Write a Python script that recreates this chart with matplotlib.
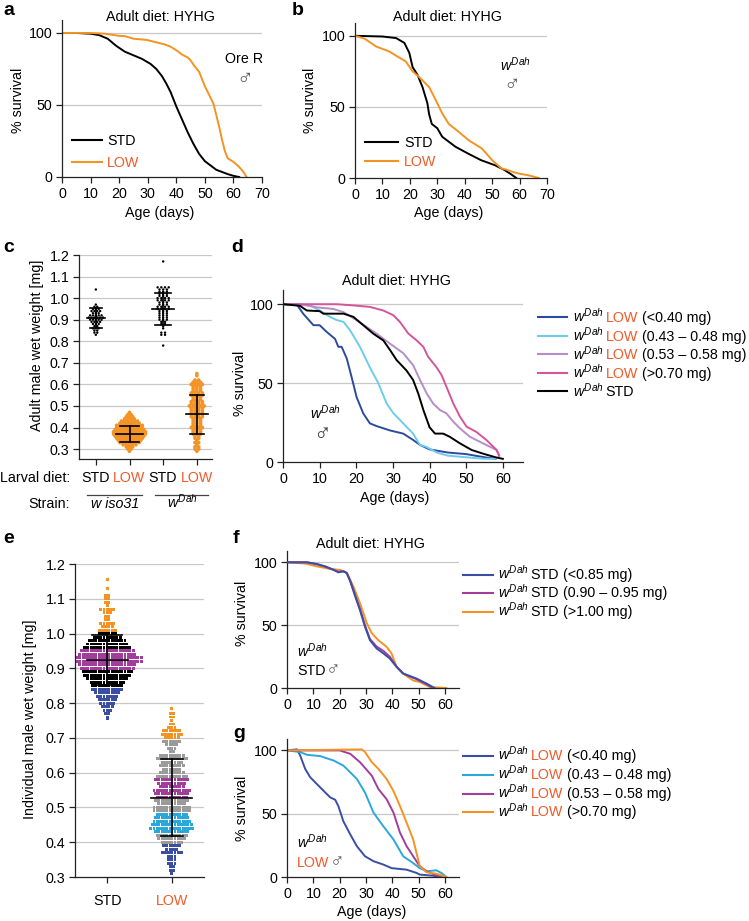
import matplotlib.pyplot as plt
import numpy as np
from matplotlib.lines import Line2D

plt.rcParams['font.family'] = ['Liberation Sans', 'DejaVu Sans']
plt.rcParams['mathtext.fontset'] = 'custom'
plt.rcParams['mathtext.it'] = 'Liberation Sans:italic'
plt.rcParams['mathtext.rm'] = 'Liberation Sans'
plt.rcParams['font.size'] = 10.3

# ---- data: survival curves (age in days, % survival)
a_std_day = [0, 5, 10, 13, 16, 19, 22, 25, 28, 31, 33, 35, 36.6, 38, 40, 42, 44, 46, 48, 50, 52, 54, 56, 58, 60, 62]
a_std_pct = [100, 100, 99.5, 98.5, 96, 91, 87, 84.5, 82, 78.5, 75, 70, 64.5, 59, 49, 40, 31, 23, 16, 11, 8, 5, 3.5, 2, 0.8, 0]
a_low_day = [0, 10, 15, 20, 22, 25, 28, 30, 33, 36, 38, 40, 42, 44, 45, 46, 48, 50, 52, 53, 54, 55, 56, 57, 58, 60, 62, 63.5, 64.6]
a_low_pct = [100, 100, 99.5, 98, 97.8, 96, 95.5, 95, 93.5, 92, 90.5, 88, 85, 83, 81, 78, 73, 63, 55, 51, 43, 35, 26, 18, 13, 10.5, 7, 3.5, 0]

b_std_day = [0, 10, 15, 18, 19.8, 21, 22.8, 24.6, 26.4, 27, 28, 30, 31.8, 36.6, 41.4, 46, 51, 54.7, 57, 58.8]
b_std_pct = [100, 99.5, 98.4, 95, 88, 78, 72.5, 64, 52.5, 45, 38, 35, 29, 22, 17, 12.5, 9, 5.4, 2.5, 0]
b_low_day = [0, 3.5, 7.7, 12.5, 15.5, 18.5, 21, 23.4, 27, 29.4, 31.8, 34.2, 37.8, 41.4, 46.3, 50, 53.5, 55, 58, 60, 63, 65, 67]
b_low_pct = [100, 98, 92.5, 89, 85.4, 82, 75, 71, 64, 55, 45.4, 38, 32.5, 26.6, 20.7, 12.5, 6.6, 6, 4, 3, 2, 1, 0]

d_b1_day = [0, 3.7, 5.5, 8.3, 10, 11.9, 14.2, 15.1, 16, 17.4, 18.7, 20.1, 21.9, 23.7, 25.5, 29.2, 32.8, 35.5, 37.4, 40, 45, 50, 55, 58]
d_b1_pct = [100, 100, 94, 86.7, 86.7, 82.5, 78, 73, 73, 65.6, 54, 41, 30.8, 24.5, 22.8, 20, 18, 14, 10.8, 8, 6, 5, 3, 2]
d_b2_day = [0, 7.4, 10, 12.8, 14.6, 16.5, 18.3, 21, 23.7, 26, 28.3, 30.1, 32.8, 35.5, 37.4, 39, 42, 45, 50, 55, 58]
d_b2_pct = [100, 99.4, 96, 92, 90, 88.8, 83.5, 73, 60, 50, 37, 31, 24.5, 18, 10.8, 9.7, 6, 4, 3, 2, 2]
d_b3_day = [0, 4.6, 9.2, 13.7, 16.5, 20, 25.5, 29.2, 32.8, 35.5, 37.4, 39.2, 41, 42.8, 44.6, 46.5, 48.3, 51, 54.6, 58.3, 59]
d_b3_pct = [100, 100, 98, 97, 95, 90, 81.4, 75, 69, 61.4, 52, 43.5, 37, 33, 30.8, 25.5, 21.3, 16, 11.8, 7.6, 4]
d_b4_day = [0, 14.6, 18.3, 23.7, 27.4, 30.1, 31.9, 34.2, 36.5, 38.3, 39.6, 41.9, 43.3, 44.6, 46.5, 48.3, 50.1, 52.8, 55.5, 58.3, 59]
d_b4_pct = [100, 100, 99.4, 98.3, 96, 93, 88.8, 81.4, 77, 73, 66.7, 60, 55, 47.7, 37, 28.7, 22.4, 19, 14, 7.6, 4]
d_std_day = [0, 4.6, 6.5, 10, 11, 16.5, 19.2, 21.9, 24.6, 27.4, 29.2, 31, 33.7, 35.5, 36.9, 38.3, 40, 41.5, 43.7, 45.5, 48.3, 51.5, 55, 58, 60]
d_std_pct = [100, 99, 96, 95.6, 94, 94, 92, 86.7, 81.4, 77, 71, 64.6, 58, 52, 43.5, 33, 22, 18, 18, 16, 11.8, 7.6, 5, 3, 2]

f_b1_day = [0, 7.6, 11.3, 14.5, 17.7, 19.5, 21.4, 22.7, 24, 25.9, 27.7, 29.6, 31.5, 34, 36.6, 39, 41.6, 44.1, 49.2, 53, 56]
f_b1_pct = [100, 100, 98.7, 96.8, 94, 92, 92.8, 91.5, 84.8, 72.8, 62, 48.8, 38, 31.5, 27.5, 23.5, 16.8, 11.5, 7.5, 3.5, 0]
f_b2_day = [0, 7.6, 11.3, 14.5, 17.7, 19.5, 21.4, 22.7, 24, 25.9, 27.7, 29.6, 31.5, 34, 36.6, 39, 41.6, 44.1, 49.2, 53, 55.5]
f_b2_pct = [100, 100, 98.5, 96.5, 94, 92.5, 93, 91.5, 85.5, 74, 63, 50, 39, 33, 29.5, 25, 17, 11.5, 7, 3, 0]
f_b3_day = [0, 7, 11.3, 16.4, 20.2, 22.7, 25.2, 27.7, 30.3, 32.2, 34.7, 37.8, 39.7, 41.6, 44.1, 47.9, 50.4, 54.2, 60.5]
f_b3_pct = [100, 99, 96.8, 94.7, 94, 91.5, 80.8, 67.5, 51.5, 43.5, 38, 32.8, 27.5, 16.8, 11.5, 6, 4.8, 0.8, 0]

g_b1_day = [0, 3.8, 5, 6.9, 8.8, 11.3, 14.5, 16.4, 18.3, 19.5, 21.4, 24, 26.5, 29.6, 32.8, 36.6, 39.7, 45.4, 49.2, 50.4, 55.5, 58.6]
g_b1_pct = [100, 100.8, 96, 85.4, 78.8, 73.5, 66.8, 62.9, 61, 56, 44, 33.7, 24.4, 16.4, 12.5, 9.8, 7, 5.8, 3.2, 1.9, 1, 0]
g_b2_day = [0, 5, 7.6, 12.6, 17.7, 21.4, 26.5, 29.6, 32.8, 36.6, 40.4, 44.1, 47.9, 50.4, 53, 56.7, 58.6, 60.5]
g_b2_pct = [100, 98.7, 96.5, 95.5, 92, 88, 77.5, 66.8, 51, 40, 29.7, 16.4, 11, 7, 4.5, 5.3, 3.2, 0]
g_b3_day = [0, 20, 24, 27.7, 32.2, 34.7, 37.8, 40.4, 42.9, 45.4, 47.9, 50.4, 53, 56.7, 58.6]
g_b3_pct = [100, 100, 97.3, 90.7, 80, 69.5, 61.5, 51, 35, 24.4, 16.4, 8.5, 4.5, 1.3, 0]
g_b4_day = [0, 28.4, 29.6, 32.2, 34.7, 37.8, 40.4, 42.9, 45.4, 47.9, 50.4, 53, 56.7, 60.5]
g_b4_pct = [100, 100.8, 98.7, 90.7, 85.4, 77.5, 68, 56, 43, 29.7, 8.5, 3.7, 2.6, 0]

# ---- data: weights (rows of the swarm: level in mg, number of flies)
c_iso_std_lv = [1.04, 0.97, 0.96, 0.95, 0.94, 0.93, 0.92, 0.91, 0.90, 0.89, 0.88, 0.87, 0.86, 0.85, 0.84, 0.83]
c_iso_std_n = [1, 1, 2, 3, 4, 3, 5, 6, 5, 4, 3, 2, 3, 2, 2, 1]
c_iso_low_lv = [0.47, 0.46, 0.45, 0.44, 0.43, 0.42, 0.41, 0.40, 0.39, 0.38, 0.37, 0.36, 0.35, 0.34, 0.33, 0.32, 0.31, 0.30, 0.29]
c_iso_low_n = [1, 2, 3, 4, 6, 7, 9, 9, 10, 11, 11, 10, 9, 8, 7, 5, 3, 2, 1]
c_dah_std_lv = [1.17, 1.05, 1.04, 1.03, 1.02, 1.01, 1.00, 0.99, 0.98, 0.97, 0.96, 0.95, 0.94, 0.93, 0.92,
                0.91, 0.90, 0.89, 0.88, 0.87, 0.86, 0.84, 0.83, 0.78]
c_dah_std_n = [1, 4, 3, 3, 3, 3, 4, 4, 3, 3, 4, 4, 3, 3, 3, 3, 3, 2, 2, 1, 1, 2, 2, 1]
c_dah_low_lv = [0.65, 0.64, 0.62, 0.61, 0.60, 0.59, 0.58, 0.57, 0.56, 0.55, 0.54, 0.53, 0.52, 0.51, 0.50, 0.49,
                0.48, 0.47, 0.46, 0.45, 0.44, 0.43, 0.42, 0.41, 0.40, 0.39, 0.38, 0.37, 0.36, 0.35, 0.34,
                0.33, 0.32, 0.31, 0.30, 0.29]
c_dah_low_n = [1, 1, 2, 3, 4, 3, 3, 3, 4, 4, 3, 3, 4, 4, 5, 4, 4, 4, 4, 4, 3, 3, 3, 3, 4, 3, 3, 3, 2, 2, 1, 2, 1, 2, 2, 1]
c_mean = [0.907, 0.37, 0.95, 0.462]
c_sd = [0.045, 0.039, 0.075, 0.09]

e_std_lv = [1.155, 1.13, 1.11, 1.10, 1.09, 1.08, 1.07, 1.06, 1.05, 1.04, 1.03, 1.02, 1.01, 1.00,
            0.99, 0.98, 0.97, 0.96, 0.95, 0.94, 0.93, 0.92, 0.91, 0.90, 0.89, 0.88, 0.87, 0.86, 0.85,
            0.84, 0.83, 0.82, 0.81, 0.80, 0.79, 0.78, 0.77, 0.76, 0.755]
e_std_n = [1, 1, 2, 2, 2, 1, 5, 3, 2, 2, 5, 4, 6, 6,
           9, 12, 13, 15, 17, 18, 22, 22, 18, 17, 16, 15, 13, 11, 10,
           10, 8, 7, 6, 5, 4, 3, 2, 1, 1]
e_low_lv = [0.785, 0.77, 0.76, 0.75, 0.74, 0.73, 0.72, 0.71, 0.70,
            0.69, 0.68, 0.67, 0.66, 0.65, 0.64, 0.63, 0.62, 0.61, 0.60, 0.59, 0.58,
            0.57, 0.56, 0.55, 0.54, 0.53, 0.52, 0.51, 0.50, 0.49, 0.48,
            0.47, 0.46, 0.45, 0.44, 0.43, 0.42, 0.41, 0.40,
            0.39, 0.38, 0.37, 0.36, 0.35, 0.34, 0.33, 0.32, 0.31]
e_low_n = [1, 2, 2, 1, 2, 3, 6, 7, 5,
           6, 4, 3, 2, 8, 10, 7, 8, 6, 8, 10, 11,
           9, 8, 12, 11, 10, 11, 9, 12, 12, 10,
           11, 12, 13, 14, 11, 10, 9, 7,
           6, 4, 7, 3, 3, 3, 2, 2, 1]
e_mean = [0.924, 0.528]
e_sd = [0.073, 0.11]

# ---- colours
ORANGE = '#f39323'
RED = '#ef5a28'
BLUE = '#3a4fa3'
CYAN = '#2aa8dc'
MAGENTA = '#a33d9c'
GRAY = '#9b9b9b'
D_BLUE = '#2d4b9e'
D_CYAN = '#6fcbec'
D_LILAC = '#b48dc9'
D_PINK = '#d5559b'
GRID = '#c8c8c8'
WDAH = r'$w^{Dah}$'
MALE = '\u2642'

W, H = 749, 921
fig = plt.figure(figsize=(W / 100, H / 100), dpi=100)


def box(l, t, r, b):
    return fig.add_axes([l / W, 1 - b / H, (r - l) / W, (b - t) / H])


def ftext(x, y, s, **kw):
    return fig.text(x / W, 1 - y / H, s, **kw)


def style(ax):
    for s in ('top', 'right'):
        ax.spines[s].set_visible(False)
    for s in ('left', 'bottom'):
        ax.spines[s].set_color('#222222')
        ax.spines[s].set_linewidth(0.9)
    ax.tick_params(direction='out', length=4, width=0.9, color='#222222', pad=3, labelsize=10.3)


def surv_axes(ax, xlim, xmax):
    style(ax)
    ax.set_xlim(0, xlim)
    ax.set_ylim(0, 109)
    ax.set_yticks([0, 50, 100])
    ax.set_xticks(range(0, xmax + 1, 10))
    for y in (50, 100):
        ax.axhline(y, color=GRID, lw=0.9, zorder=0)


def rich(x, y, parts, size=10.3):
    r = fig.canvas.get_renderer()
    for p in parts:
        s, c, gap = p[:3]
        fs = p[3] if len(p) > 3 else size
        t = ftext(x, y, s, color=c, fontsize=fs, va='baseline', ha='left')
        x += t.get_window_extent(r).width + gap


def leg_line(x0, x1, y, color):
    fig.add_artist(Line2D([x0 / W, x1 / W], [1 - y / H] * 2, color=color, lw=1.5,
                          transform=fig.transFigure))


def swarm(ax, x0, levels, counts, step, colors, s, marker):
    xs, ys, cs = [], [], []
    for v, n in zip(levels, counts):
        off = (np.arange(n) - (n - 1) / 2) * step
        xs.extend(x0 + off)
        ys.extend([v] * n)
        cs.extend([colors(v)] * n)
    ax.scatter(xs, ys, s=s, c=cs, marker=marker, linewidths=0, zorder=2)


def meanbar(ax, x0, m, sd, hw_mean, hw_cap):
    kw = dict(color='black', lw=1.2, zorder=3)
    ax.plot([x0 - hw_mean, x0 + hw_mean], [m, m], **kw)
    ax.plot([x0, x0], [m - sd, m + sd], **kw)
    ax.plot([x0 - hw_cap, x0 + hw_cap], [m + sd, m + sd], **kw)
    ax.plot([x0 - hw_cap, x0 + hw_cap], [m - sd, m - sd], **kw)


# ---- panel a
ax = box(62, 20, 262, 177)
surv_axes(ax, 70, 70)
ax.plot(a_std_day, a_std_pct, color='black', lw=1.4)
ax.plot(a_low_day, a_low_pct, color=ORANGE, lw=1.4)
ftext(160, 17, 'Adult diet: HYHG', ha='center', va='center')
ftext(18, 100, '% survival', rotation=90, ha='center', va='center')
ftext(160, 213, 'Age (days)', ha='center', va='center')
ftext(225, 63, 'Ore R', va='baseline')
ftext(245, 79, MALE, ha='center', va='center', fontsize=16, color='#555555')
leg_line(72, 102, 140, 'black')
leg_line(72, 102, 162, ORANGE)
ftext(107, 145, 'STD', va='baseline')
ftext(107, 167, 'LOW', va='baseline', color=RED)

# ---- panel b
ax = box(355, 23, 547, 178)
surv_axes(ax, 70, 70)
ax.plot(b_std_day, b_std_pct, color='black', lw=1.4)
ax.plot(b_low_day, b_low_pct, color=ORANGE, lw=1.4)
ftext(448, 17, 'Adult diet: HYHG', ha='center', va='center')
ftext(310, 100, '% survival', rotation=90, ha='center', va='center')
ftext(449, 213, 'Age (days)', ha='center', va='center')
ftext(500, 71, WDAH, va='baseline')
ftext(512, 86, MALE, ha='center', va='center', fontsize=16, color='#555555')
leg_line(365, 398, 142, 'black')
leg_line(365, 398, 161, ORANGE)
ftext(404, 147, 'STD', va='baseline')
ftext(404, 166, 'LOW', va='baseline', color=RED)

# ---- panel c
ax = box(79, 255, 212, 459)
style(ax)
ax.set_xlim(0.5, 4.45)
ax.set_ylim(0.254, 1.2)
ax.set_yticks(np.arange(0.3, 1.21, 0.1))
ax.set_yticklabels(['%.1f' % v for v in np.arange(0.3, 1.21, 0.1)])
ax.set_xticks([1, 2, 3, 4])
ax.set_xticklabels([])
for y in np.arange(0.3, 1.21, 0.1):
    ax.axhline(y, color=GRID, lw=0.9, zorder=0)
swarm(ax, 1, c_iso_std_lv, c_iso_std_n, 0.085, lambda v: 'black', 3, 'o')
swarm(ax, 2, c_iso_low_lv, c_iso_low_n, 0.095, lambda v: ORANGE, 7, 'o')
swarm(ax, 3, c_dah_std_lv, c_dah_std_n, 0.11, lambda v: 'black', 3, 'o')
swarm(ax, 4, c_dah_low_lv, c_dah_low_n, 0.11, lambda v: ORANGE, 7, 'o')
meanbar(ax, 1, c_mean[0], c_sd[0], 0.27, 0.18)
meanbar(ax, 2, c_mean[1], c_sd[1], 0.39, 0.27)
meanbar(ax, 3, c_mean[2], c_sd[2], 0.33, 0.24)
meanbar(ax, 4, c_mean[3], c_sd[3], 0.33, 0.21)
ftext(37, 345, 'Adult male wet weight [mg]', rotation=90, ha='center', va='center')
ftext(70, 478, 'Larval diet:', ha='right', va='center')
for xp, lab, col in [(96, 'STD', 'black'), (129, 'LOW', RED), (163, 'STD', 'black'), (197, 'LOW', RED)]:
    ftext(xp, 478, lab, ha='center', va='center', color=col)
ftext(70, 504, 'Strain:', ha='right', va='center')
ftext(115, 504, 'w iso31', ha='center', va='center', style='italic')
ftext(182, 508, WDAH, ha='center', va='baseline')
for x0, x1 in [(87, 142), (155, 208)]:
    fig.add_artist(Line2D([x0 / W, x1 / W], [1 - 495 / H] * 2, color='#444444', lw=0.9,
                          transform=fig.transFigure))

# ---- panel d
ax = box(283, 290, 523, 462)
surv_axes(ax, 65.5, 60)
ax.plot(d_b1_day, d_b1_pct, color=D_BLUE, lw=1.4)
ax.plot(d_b2_day, d_b2_pct, color=D_CYAN, lw=1.4)
ax.plot(d_b3_day, d_b3_pct, color=D_LILAC, lw=1.4)
ax.plot(d_b4_day, d_b4_pct, color=D_PINK, lw=1.4)
ax.plot(d_std_day, d_std_pct, color='black', lw=1.4)
ftext(396, 281, 'Adult diet: HYHG', ha='center', va='center')
ftext(240, 383, '% survival', rotation=90, ha='center', va='center')
ftext(395, 498, 'Age (days)', ha='center', va='center')
ftext(310, 419, WDAH, va='baseline')
ftext(322, 435, MALE, ha='center', va='center', fontsize=17, color='#333333')
d_rows = [(D_BLUE, 'LOW', RED, '(<0.40 mg)'), (D_CYAN, 'LOW', RED, '(0.43 \u2013 0.48 mg)'),
          (D_LILAC, 'LOW', RED, '(0.53 \u2013 0.58 mg)'), (D_PINK, 'LOW', RED, '(>0.70 mg)'),
          ('black', 'STD', 'black', '')]
for i, (lc, diet, dc, rng) in enumerate(d_rows):
    y = 317 + i * 18.6
    leg_line(538, 567, y, lc)
    rich(573, y + 5, [(WDAH, 'black', 2), (diet, dc, 4), (rng, 'black', 0)])

# ---- panel e
ax = box(75, 564, 204, 877)
style(ax)
ax.set_xlim(0.5, 2.5)
ax.set_ylim(0.3, 1.2)
ax.set_yticks(np.arange(0.3, 1.21, 0.1))
ax.set_yticklabels(['%.1f' % v for v in np.arange(0.3, 1.21, 0.1)])
ax.set_xticks([1, 2])
ax.set_xticklabels(['STD', 'LOW'])
ax.get_xticklabels()[1].set_color(RED)
ax.tick_params(axis='x', pad=8)
for y in np.arange(0.4, 1.21, 0.1):
    ax.axhline(y, color=GRID, lw=0.9, zorder=0)


def e_std_col(v):
    if v > 1.004:
        return ORANGE
    if 0.895 <= v <= 0.955:
        return MAGENTA
    if v < 0.845:
        return BLUE
    return 'black'


def e_low_col(v):
    if v >= 0.695:
        return ORANGE
    if 0.525 <= v <= 0.585:
        return MAGENTA
    if 0.425 <= v <= 0.485:
        return CYAN
    if v < 0.395:
        return BLUE
    return GRAY


swarm(ax, 1, e_std_lv, e_std_n, 0.05, e_std_col, 4.5, 's')
swarm(ax, 2, e_low_lv, e_low_n, 0.05, e_low_col, 4.5, 's')
meanbar(ax, 1, e_mean[0], e_sd[0], 0.32, 0.23)
meanbar(ax, 2, e_mean[1], e_sd[1], 0.32, 0.17)
ftext(30, 719, 'Individual male wet weight [mg]', rotation=90, ha='center', va='center')

# ---- panel f
ax = box(287, 551, 459, 688)
surv_axes(ax, 65.3, 60)
ax.plot(f_b1_day, f_b1_pct, color=BLUE, lw=1.4, zorder=3)
ax.plot(f_b2_day, f_b2_pct, color=MAGENTA, lw=1.4, zorder=2)
ax.plot(f_b3_day, f_b3_pct, color=ORANGE, lw=1.4, zorder=1)
ftext(370, 544, 'Adult diet: HYHG', ha='center', va='center')
ftext(242, 613, '% survival', rotation=90, ha='center', va='center')
ftext(297, 657, WDAH, va='baseline')
rich(297, 675, [('STD', 'black', 0), (MALE, '#555555', 0, 14)])
f_rows = [(BLUE, '(<0.85 mg)'), (MAGENTA, '(0.90 \u2013 0.95 mg)'), (ORANGE, '(>1.00 mg)')]
for i, (lc, rng) in enumerate(f_rows):
    y = 575 + i * 18.3
    leg_line(463, 493, y, lc)
    rich(498, y + 4, [(WDAH, 'black', 2), ('STD', 'black', 4), (rng, 'black', 0)])

# ---- panel g
ax = box(287, 739, 459, 877)
surv_axes(ax, 65.3, 60)
ax.plot(g_b1_day, g_b1_pct, color=BLUE, lw=1.4)
ax.plot(g_b2_day, g_b2_pct, color=CYAN, lw=1.4)
ax.plot(g_b3_day, g_b3_pct, color=MAGENTA, lw=1.4)
ax.plot(g_b4_day, g_b4_pct, color=ORANGE, lw=1.4)
ftext(242, 808, '% survival', rotation=90, ha='center', va='center')
ftext(372, 912, 'Age (days)', ha='center', va='center')
ftext(297, 848, WDAH, va='baseline')
rich(297, 867, [('LOW', RED, 0), (MALE, '#555555', 0, 14)])
g_rows = [(BLUE, '(<0.40 mg)'), (CYAN, '(0.43 \u2013 0.48 mg)'), (MAGENTA, '(0.53 \u2013 0.58 mg)'), (ORANGE, '(>0.70 mg)')]
for i, (lc, rng) in enumerate(g_rows):
    y = 756 + i * 18.8
    leg_line(463, 493, y, lc)
    rich(498, y + 4, [(WDAH, 'black', 2), ('LOW', RED, 4), (rng, 'black', 0)])

# ---- panel letters
for lab, x, y in [('a', 3, 15), ('b', 292, 15), ('c', 3, 252), ('d', 231, 252),
                  ('e', 3, 543), ('f', 233, 543), ('g', 233, 738)]:
    ftext(x, y, lab, fontsize=14, fontweight='bold', va='baseline')

fig.savefig('out.png', dpi=100)
